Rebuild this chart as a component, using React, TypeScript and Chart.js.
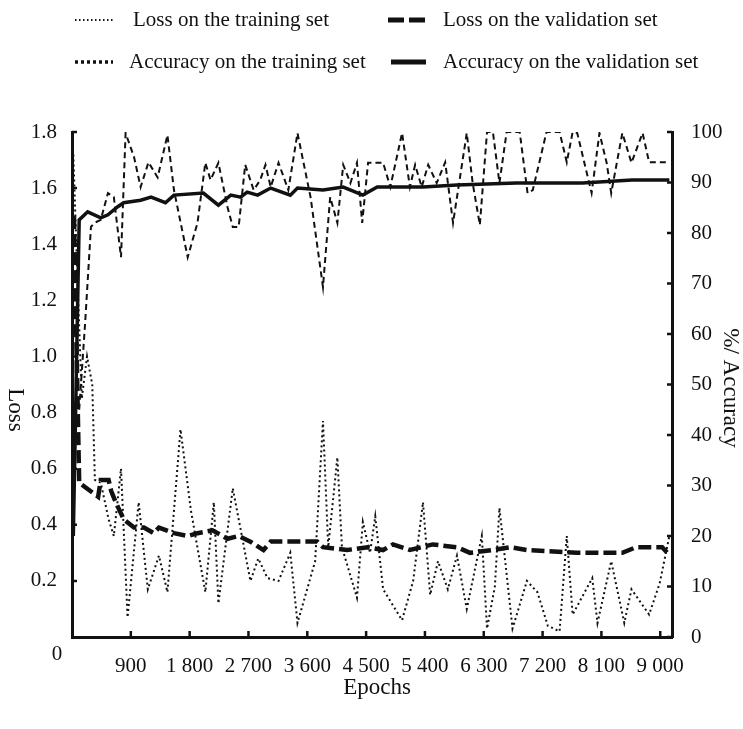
import React, { useEffect, useRef } from "react";
import { Chart, registerables } from "chart.js";

Chart.register(...registerables);

// ---- data ----
const lossTrainEpochs = [20, 80, 150, 230, 310, 350, 440, 560, 640, 750, 850, 1020, 1160, 1330, 1460, 1660, 1820, 2040, 2170, 2240, 2460, 2730, 2850, 2990, 3160, 3340, 3450, 3720, 3840, 3920, 4060, 4130, 4360, 4450, 4560, 4640, 4760, 5050, 5220, 5370, 5480, 5600, 5750, 5890, 6040, 6270, 6350, 6470, 6540, 6740, 6960, 7120, 7280, 7460, 7570, 7660, 7960, 8040, 8250, 8450, 8560, 8830, 8990, 9140];
const lossTrainValues = [1.72, 1.3, 0.85, 1.0, 0.9, 0.56, 0.55, 0.42, 0.36, 0.6, 0.07, 0.48, 0.17, 0.29, 0.16, 0.74, 0.45, 0.16, 0.48, 0.12, 0.53, 0.2, 0.28, 0.21, 0.2, 0.3, 0.05, 0.27, 0.77, 0.32, 0.64, 0.32, 0.14, 0.41, 0.3, 0.43, 0.17, 0.06, 0.2, 0.48, 0.15, 0.27, 0.17, 0.29, 0.1, 0.36, 0.03, 0.18, 0.46, 0.03, 0.2, 0.16, 0.04, 0.02, 0.36, 0.08, 0.21, 0.05, 0.27, 0.05, 0.17, 0.08, 0.19, 0.36];

const lossValEpochs = [30, 110, 400, 440, 560, 600, 670, 790, 950, 1100, 1250, 1330, 1560, 1770, 1920, 2150, 2380, 2550, 2730, 2930, 3040, 3750, 3840, 4210, 4520, 4760, 4910, 5170, 5520, 5890, 6090, 6440, 6700, 6960, 7720, 8420, 8630, 9030, 9110];
const lossValValues = [1.5, 0.55, 0.5, 0.56, 0.56, 0.52, 0.48, 0.42, 0.39, 0.39, 0.37, 0.39, 0.37, 0.36, 0.37, 0.38, 0.35, 0.36, 0.34, 0.31, 0.34, 0.34, 0.32, 0.31, 0.32, 0.31, 0.33, 0.31, 0.33, 0.32, 0.3, 0.31, 0.32, 0.31, 0.3, 0.3, 0.32, 0.32, 0.3];

const accTrainEpochs = [110, 200, 290, 340, 440, 550, 640, 750, 820, 950, 1050, 1170, 1310, 1460, 1560, 1770, 1920, 2040, 2120, 2240, 2380, 2460, 2550, 2650, 2780, 2880, 2960, 3040, 3160, 3310, 3450, 3650, 3840, 3950, 4060, 4150, 4260, 4360, 4440, 4530, 4760, 4870, 5050, 5170, 5250, 5350, 5450, 5580, 5710, 5830, 6040, 6130, 6240, 6350, 6440, 6540, 6650, 6850, 6970, 7050, 7260, 7460, 7570, 7660, 7730, 7950, 8070, 8180, 8250, 8420, 8560, 8730, 8830, 9140];
const accTrainValues = [45, 62, 81.2, 82, 82.6, 87.9, 87.1, 75.2, 99.8, 95, 89.1, 94, 91, 99.4, 88.5, 75.2, 82, 93.9, 90.5, 93.9, 85.1, 81.2, 81.2, 93.5, 88.5, 90.5, 93.5, 89.1, 93.9, 88.5, 99.8, 87.1, 69.3, 87.1, 82, 93.5, 89.9, 93.9, 82, 93.9, 93.9, 89.1, 99.8, 89.1, 93.5, 89.1, 93.5, 89.9, 94, 82, 99.8, 89.9, 81.6, 100, 100, 89.9, 100, 100, 87.9, 88.5, 100, 100, 94, 100, 99.8, 87.9, 99.8, 93.9, 87.9, 99.8, 93.9, 99.8, 94, 94];

const accValEpochs = [20, 110, 240, 440, 550, 700, 790, 1050, 1210, 1430, 1560, 2010, 2240, 2430, 2580, 2680, 2840, 3040, 3340, 3450, 3840, 4150, 4450, 4670, 5370, 5890, 6800, 7810, 8570, 9140];
const accValValues = [20, 82.6, 84.2, 83, 83.6, 85.2, 86, 86.5, 87.1, 86, 87.5, 87.9, 85.5, 87.5, 87.1, 88.1, 87.5, 88.9, 87.5, 88.9, 88.5, 89.1, 87.5, 89.1, 89.1, 89.5, 89.9, 89.9, 90.5, 90.5];

const epochTicks = [900, 1800, 2700, 3600, 4500, 5400, 6300, 7200, 8100, 9000];
const lossTicks = [0.2, 0.4, 0.6, 0.8, 1.0, 1.2, 1.4, 1.6, 1.8];
const accTicks = [0, 10, 20, 30, 40, 50, 60, 70, 80, 90, 100];

const seriesNames = [
  "Loss on the training set",
  "Loss on the validation set",
  "Accuracy on the training set",
  "Accuracy on the validation set",
];
const xTitle = "Epochs";
const yLeftTitle = "Loss";
const yRightTitle = "%/ Accuracy";
const originLabel = "0";

const FONT = '"Liberation Serif", "Times New Roman", serif';
const FS = 21;
const TITLE_FS = 23;
const INK = "#111";

const fmtEpoch = (n: number) =>
  n >= 1000 ? `${Math.floor(n / 1000)} ${String(n % 1000).padStart(3, "0")}` : String(n);

const toPts = (xs: number[], ys: number[]) => xs.map((x, i) => ({ x, y: ys[i] }));

const decorPlugin = {
  id: "decor",
  afterDraw(chart: any) {
    const { ctx, scales } = chart;
    const xs = scales.x, yl = scales.yL, yr = scales.yR;
    ctx.save();
    // inward tick marks
    ctx.strokeStyle = INK;
    ctx.lineWidth = 2.5;
    ctx.setLineDash([]);
    ctx.beginPath();
    epochTicks.forEach((v) => {
      const px = xs.getPixelForValue(v);
      ctx.moveTo(px, xs.top);
      ctx.lineTo(px, xs.top - 6);
    });
    lossTicks.forEach((v) => {
      const py = yl.getPixelForValue(v);
      ctx.moveTo(yl.right, py);
      ctx.lineTo(yl.right + 5, py);
    });
    accTicks.forEach((v) => {
      const py = yr.getPixelForValue(v);
      ctx.moveTo(yr.left, py);
      ctx.lineTo(yr.left - 5, py);
    });
    ctx.stroke();

    ctx.fillStyle = INK;
    ctx.textBaseline = "middle";

    // origin label
    ctx.font = `${FS}px ${FONT}`;
    ctx.textAlign = "center";
    ctx.fillText(originLabel, 57, 654);

    // titles
    ctx.font = `${TITLE_FS}px ${FONT}`;
    ctx.fillText(xTitle, 377, 688);

    ctx.save();
    ctx.translate(15, 410);
    ctx.rotate(Math.PI / 2);
    ctx.fillText(yLeftTitle, 0, 0);
    ctx.restore();

    ctx.save();
    ctx.translate(730, 388);
    ctx.rotate(Math.PI / 2);
    ctx.fillText(yRightTitle, 0, 0);
    ctx.restore();

    // legend
    ctx.font = `${FS}px ${FONT}`;
    const rows = [20, 62];
    const samples = [
      { x0: 75, x1: 113, row: 0, w: 2, dash: [1.5, 2.5], tx: 133 },
      { x0: 388, x1: 426, row: 0, w: 5, dash: [16, 5], tx: 443 },
      { x0: 75, x1: 113, row: 1, w: 3.5, dash: [3, 3], tx: 129 },
      { x0: 391, x1: 426, row: 1, w: 5, dash: [], tx: 443 },
    ];
    ctx.textAlign = "left";
    samples.forEach((s, i) => {
      const y = rows[s.row];
      ctx.beginPath();
      ctx.lineWidth = s.w;
      ctx.setLineDash(s.dash);
      ctx.moveTo(s.x0, y);
      ctx.lineTo(s.x1, y);
      ctx.stroke();
      ctx.setLineDash([]);
      ctx.fillText(seriesNames[i], s.tx, y);
    });
    ctx.restore();
  },
};

export default function App() {
  const ref = useRef<HTMLCanvasElement | null>(null);

  useEffect(() => {
    if (!ref.current) return;
    Chart.defaults.font.family = FONT;
    Chart.defaults.font.size = FS;
    Chart.defaults.color = INK;

    const chart = new Chart(ref.current, {
      type: "line",
      data: {
        datasets: [
          {
            label: seriesNames[0],
            data: toPts(lossTrainEpochs, lossTrainValues),
            yAxisID: "yL",
            borderColor: INK,
            borderWidth: 2,
            borderDash: [2, 3],
            pointRadius: 0,
            tension: 0,
          },
          {
            label: seriesNames[1],
            data: toPts(lossValEpochs, lossValValues),
            yAxisID: "yL",
            borderColor: INK,
            borderWidth: 4.5,
            borderDash: [13, 5],
            pointRadius: 0,
            tension: 0,
          },
          {
            label: seriesNames[2],
            data: toPts(accTrainEpochs, accTrainValues),
            yAxisID: "yR",
            borderColor: INK,
            borderWidth: 2,
            borderDash: [6, 4],
            pointRadius: 0,
            tension: 0,
          },
          {
            label: seriesNames[3],
            data: toPts(accValEpochs, accValValues),
            yAxisID: "yR",
            borderColor: INK,
            borderWidth: 3.5,
            pointRadius: 0,
            tension: 0,
          },
        ],
      },
      options: {
        animation: false,
        responsive: false,
        maintainAspectRatio: false,
        layout: { padding: { top: 132, left: 0, right: 0, bottom: 0 } },
        plugins: { legend: { display: false }, tooltip: { enabled: false } },
        scales: {
          x: {
            type: "linear",
            min: 0,
            max: 9180,
            grid: { display: false },
            border: { display: true, width: 3, color: INK },
            afterBuildTicks: (s: any) => {
              s.ticks = epochTicks.map((v) => ({ value: v }));
            },
            afterFit: (s: any) => {
              s.height = 92;
            },
            ticks: {
              autoSkip: false,
              maxRotation: 0,
              padding: 9,
              callback: (v: any) => fmtEpoch(Number(v)),
            },
          },
          yL: {
            type: "linear",
            position: "left",
            min: 0,
            max: 1.8,
            grid: { display: false },
            border: { display: true, width: 3, color: INK },
            afterBuildTicks: (s: any) => {
              s.ticks = lossTicks.map((v) => ({ value: v }));
            },
            afterFit: (s: any) => {
              s.width = 72;
            },
            ticks: { padding: 7, callback: (v: any) => Number(v).toFixed(1) },
          },
          yR: {
            type: "linear",
            position: "right",
            min: 0,
            max: 100,
            grid: { display: false },
            border: { display: true, width: 3, color: INK },
            afterBuildTicks: (s: any) => {
              s.ticks = accTicks.map((v) => ({ value: v }));
            },
            afterFit: (s: any) => {
              s.width = 71;
            },
            ticks: { padding: 11, callback: (v: any) => String(v) },
          },
        },
      },
      plugins: [decorPlugin],
    });
    return () => chart.destroy();
  }, []);

  return (
    <div style={{ position: "fixed", left: 0, top: 0, width: 743, height: 729, background: "#fff" }}>
      <canvas ref={ref} width={743} height={729} style={{ display: "block" }} />
    </div>
  );
}
